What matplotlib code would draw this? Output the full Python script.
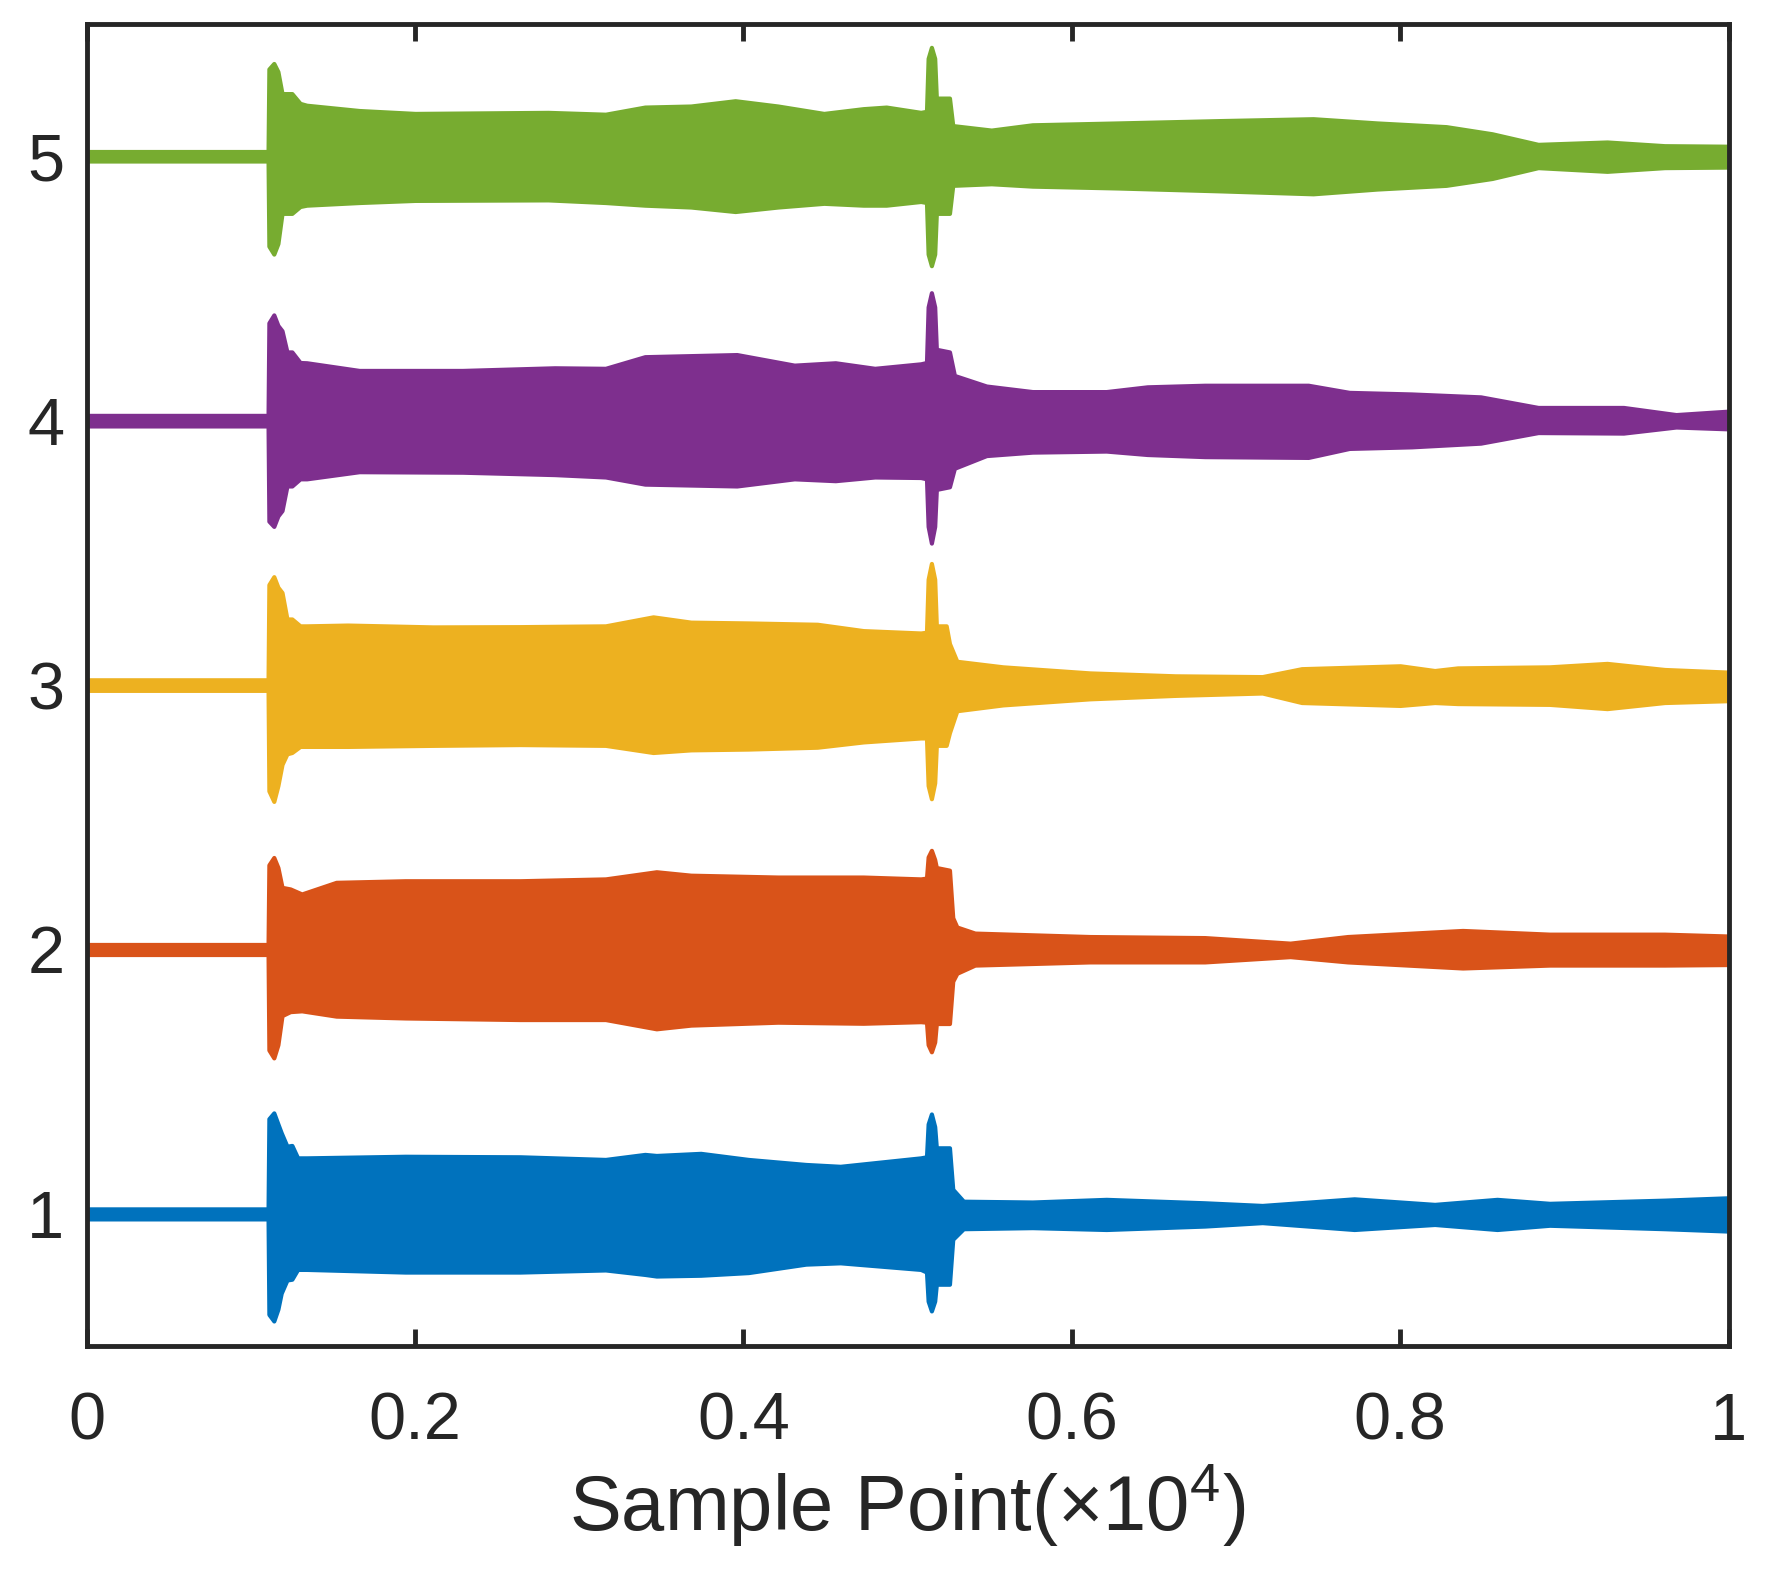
import matplotlib
matplotlib.use('Agg')
import matplotlib.pyplot as plt

plt.rcParams['font.family'] = ['Liberation Sans', 'DejaVu Sans']
plt.rcParams['mathtext.fontset'] = 'custom'
plt.rcParams['mathtext.rm'] = 'Liberation Sans'
plt.rcParams['mathtext.it'] = 'Liberation Sans:italic'

# channel envelopes: x in units of 1e4 samples,
# upper / lower = distance of the signal envelope above / below the channel baseline
ch1_x = [0, 0.1105, 0.111, 0.114, 0.1165, 0.1185, 0.122, 0.125, 0.1285, 0.134, 0.194, 0.264,
         0.316, 0.34, 0.347, 0.374, 0.403, 0.438, 0.459, 0.508, 0.5115, 0.5125, 0.5145, 0.5165,
         0.5175, 0.5255, 0.5275, 0.534, 0.576, 0.621, 0.681, 0.716, 0.772, 0.821, 0.859, 0.891,
         0.961, 1.0]
ch1_upper = [0.019, 0.019, 0.36, 0.382, 0.34, 0.307, 0.256, 0.259, 0.212, 0.212, 0.218, 0.216,
             0.206, 0.225, 0.221, 0.229, 0.206, 0.187, 0.18, 0.212, 0.216, 0.34, 0.378, 0.33,
             0.25, 0.25, 0.093, 0.048, 0.045, 0.055, 0.042, 0.032, 0.057, 0.036, 0.055, 0.04,
             0.052, 0.061]
ch1_lower = [0.019, 0.019, 0.38, 0.405, 0.36, 0.30, 0.25, 0.247, 0.21, 0.21, 0.22, 0.22,
             0.212, 0.229, 0.235, 0.232, 0.222, 0.19, 0.185, 0.21, 0.22, 0.33, 0.367, 0.33,
             0.266, 0.266, 0.096, 0.056, 0.052, 0.059, 0.046, 0.033, 0.059, 0.04, 0.059, 0.043,
             0.056, 0.065]

ch2_x = [0, 0.1105, 0.111, 0.114, 0.1165, 0.119, 0.124, 0.131, 0.152, 0.194, 0.264, 0.316,
         0.347, 0.368, 0.421, 0.473, 0.508, 0.5115, 0.5125, 0.5145, 0.5165, 0.5175, 0.5255,
         0.5275, 0.53, 0.541, 0.611, 0.681, 0.733, 0.768, 0.838, 0.891, 0.961, 1.0]
ch2_upper = [0.019, 0.019, 0.32, 0.348, 0.31, 0.235, 0.229, 0.21, 0.254, 0.26, 0.26, 0.267,
             0.294, 0.281, 0.274, 0.274, 0.267, 0.27, 0.35, 0.375, 0.34, 0.31, 0.30,
             0.12, 0.085, 0.062, 0.049, 0.045, 0.024, 0.049, 0.072, 0.058, 0.058, 0.051]
ch2_lower = [0.019, 0.019, 0.38, 0.41, 0.36, 0.25, 0.235, 0.232, 0.252, 0.259, 0.265, 0.265,
             0.30, 0.286, 0.275, 0.279, 0.273, 0.275, 0.36, 0.387, 0.35, 0.28, 0.28,
             0.12, 0.09, 0.059, 0.047, 0.047, 0.027, 0.047, 0.07, 0.059, 0.059, 0.057]

ch3_x = [0, 0.1105, 0.111, 0.114, 0.1165, 0.119, 0.122, 0.125, 0.13, 0.134, 0.159, 0.211,
         0.264, 0.316, 0.345, 0.368, 0.403, 0.445, 0.473, 0.508, 0.5115, 0.5125, 0.5145,
         0.5165, 0.5175, 0.5235, 0.5255, 0.53, 0.558, 0.611, 0.663, 0.716, 0.74, 0.8, 0.821,
         0.835, 0.891, 0.926, 0.961, 1.0]
ch3_upper = [0.02, 0.02, 0.38, 0.41, 0.37, 0.35, 0.25, 0.25, 0.224, 0.224, 0.227, 0.22,
             0.221, 0.224, 0.258, 0.238, 0.235, 0.23, 0.206, 0.197, 0.20, 0.40, 0.46,
             0.40, 0.224, 0.224, 0.157, 0.09, 0.069, 0.046, 0.035, 0.032, 0.062, 0.073, 0.055,
             0.065, 0.069, 0.082, 0.059, 0.049]
ch3_lower = [0.02, 0.02, 0.40, 0.44, 0.38, 0.30, 0.26, 0.255, 0.232, 0.232, 0.232, 0.228,
             0.225, 0.228, 0.255, 0.245, 0.242, 0.235, 0.215, 0.20, 0.20, 0.38, 0.43,
             0.37, 0.228, 0.228, 0.18, 0.097, 0.075, 0.052, 0.039, 0.03, 0.066, 0.077, 0.066,
             0.07, 0.073, 0.089, 0.066, 0.059]

ch4_x = [0, 0.1105, 0.111, 0.114, 0.1165, 0.119, 0.122, 0.125, 0.13, 0.134, 0.166, 0.229,
         0.285, 0.316, 0.34, 0.396, 0.431, 0.456, 0.48, 0.508, 0.5115, 0.5125, 0.5145, 0.5165,
         0.5175, 0.5255, 0.5285, 0.548, 0.576, 0.621, 0.646, 0.681, 0.744, 0.769, 0.807, 0.849,
         0.884, 0.936, 0.968, 1.0]
ch4_upper = [0.02, 0.02, 0.37, 0.40, 0.36, 0.34, 0.26, 0.26, 0.22, 0.219, 0.19, 0.19,
             0.20, 0.198, 0.242, 0.25, 0.21, 0.219, 0.198, 0.215, 0.22, 0.43, 0.484, 0.43,
             0.27, 0.26, 0.171, 0.131, 0.11, 0.11, 0.128, 0.134, 0.134, 0.107, 0.101, 0.09,
             0.05, 0.05, 0.023, 0.036]
ch4_lower = [0.02, 0.02, 0.38, 0.40, 0.36, 0.34, 0.247, 0.247, 0.22, 0.22, 0.193, 0.195,
             0.204, 0.213, 0.24, 0.247, 0.22, 0.227, 0.213, 0.215, 0.22, 0.40, 0.463, 0.40,
             0.26, 0.25, 0.18, 0.132, 0.119, 0.115, 0.128, 0.136, 0.139, 0.105, 0.099, 0.085,
             0.045, 0.047, 0.024, 0.031]

ch5_x = [0, 0.1105, 0.111, 0.114, 0.1165, 0.119, 0.122, 0.125, 0.13, 0.134, 0.166, 0.2,
         0.281, 0.316, 0.34, 0.368, 0.395, 0.421, 0.449, 0.473, 0.487, 0.508, 0.5115, 0.5125,
         0.5145, 0.5165, 0.5175, 0.5255, 0.5275, 0.551, 0.576, 0.628, 0.691, 0.747, 0.786,
         0.828, 0.856, 0.884, 0.926, 0.961, 1.0]
ch5_upper = [0.018, 0.018, 0.33, 0.351, 0.32, 0.237, 0.237, 0.237, 0.20, 0.193, 0.173, 0.162,
             0.166, 0.159, 0.186, 0.19, 0.21, 0.19, 0.162, 0.18, 0.186, 0.166, 0.17, 0.37,
             0.412, 0.37, 0.22, 0.22, 0.116, 0.099, 0.119, 0.126, 0.135, 0.142, 0.126,
             0.112, 0.085, 0.045, 0.054, 0.04, 0.038]
ch5_lower = [0.018, 0.018, 0.34, 0.37, 0.33, 0.216, 0.216, 0.216, 0.19, 0.185, 0.175, 0.167,
             0.165, 0.175, 0.185, 0.192, 0.209, 0.192, 0.178, 0.185, 0.185, 0.171, 0.175, 0.37,
             0.414, 0.37, 0.216, 0.216, 0.11, 0.104, 0.113, 0.12, 0.131, 0.142, 0.124,
             0.11, 0.084, 0.043, 0.057, 0.043, 0.041]

channels = [1, 2, 3, 4, 5]
colors = ['#0072BD', '#D95319', '#EDB120', '#7E2F8E', '#77AC30']
x_ticks = [0, 0.2, 0.4, 0.6, 0.8, 1]
x_tick_labels = ['0', '0.2', '0.4', '0.6', '0.8', '1']

envelopes = [(ch1_x, ch1_upper, ch1_lower), (ch2_x, ch2_upper, ch2_lower),
             (ch3_x, ch3_upper, ch3_lower), (ch4_x, ch4_upper, ch4_lower),
             (ch5_x, ch5_upper, ch5_lower)]

fig = plt.figure(figsize=(17.68, 15.72), dpi=100)
ax = fig.add_axes([0.049, 0.1437, 0.9287, 0.841])

for c, col, (xs, up, lo) in zip(channels, colors, envelopes):
    top = [c + u for u in up]
    bot = [c - l for l in lo]
    ax.fill_between(xs, bot, top, color=col, linewidth=3, edgecolor=col, joinstyle='round')

ax.set_xlim(0, 1)
ax.set_ylim(0.5, 5.5)
ax.set_xticks(x_ticks)
ax.set_xticklabels(x_tick_labels)
ax.set_yticks(channels)
ax.set_axisbelow(True)

dark = '#262626'
for s in ax.spines.values():
    s.set_linewidth(3.5)
    s.set_color(dark)
ax.tick_params(direction='in', length=12.5, width=3.5, color=dark, labelcolor=dark,
               top=True, right=True, labelsize=48)
ax.tick_params(axis='x', pad=33)
ax.tick_params(axis='y', pad=16)

ax.set_xlabel('Sample Point(×$10^{4}$)', fontsize=56, color=dark, labelpad=6)

fig.savefig('out.png', dpi=100)
